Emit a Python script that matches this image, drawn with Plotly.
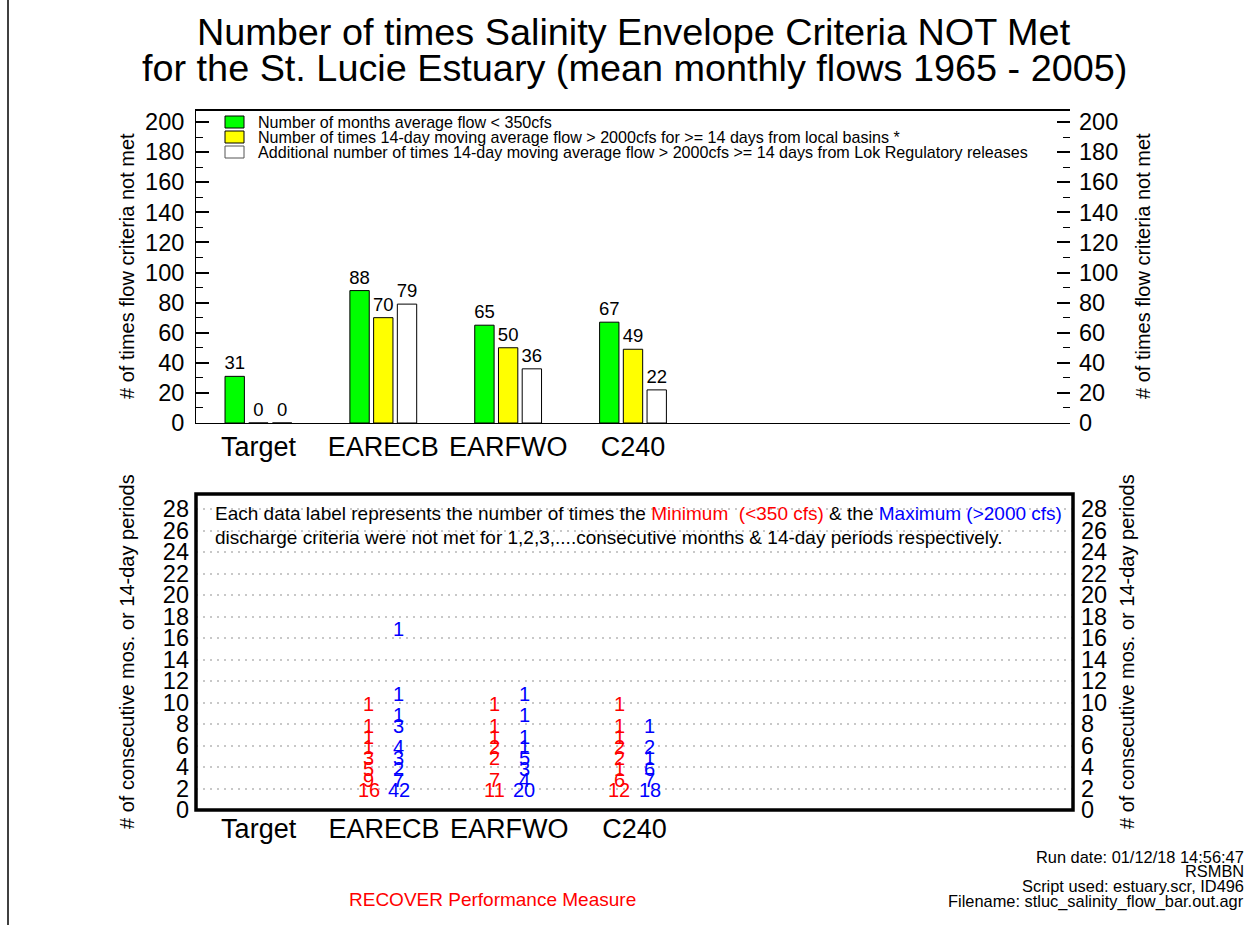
import plotly.graph_objects as go

# ---------------- data ----------------
stations = ["Target", "EARECB", "EARFWO", "C240"]
months_lt350 = [31, 88, 65, 67]
times_gt2000_local = [0, 70, 50, 49]
times_gt2000_lok = [0, 79, 36, 22]

# lower panel: consecutive duration -> number of occurrences
min_dur = {
    "EARECB": [1, 2, 3, 4, 5, 6, 7, 9],
    "EARFWO": [1, 2, 4, 5, 6, 7, 9],
    "C240":   [1, 2, 3, 4, 5, 6, 7, 9],
}
min_cnt = {
    "EARECB": [16, 9, 5, 3, 1, 1, 1, 1],
    "EARFWO": [11, 7, 2, 2, 1, 1, 1],
    "C240":   [12, 6, 1, 2, 2, 1, 1, 1],
}
max_dur = {
    "EARECB": [1, 2, 3, 4, 5, 7, 8, 10, 16],
    "EARFWO": [1, 2, 3, 4, 5, 6, 8, 10],
    "C240":   [1, 2, 3, 4, 5, 7],
}
max_cnt = {
    "EARECB": [42, 7, 2, 3, 4, 3, 1, 1, 1],
    "EARFWO": [20, 4, 3, 5, 1, 1, 1, 1],
    "C240":   [18, 7, 6, 1, 2, 1],
}
legend_labels = [
    "Number of months average flow < 350cfs",
    "Number of times 14-day moving average flow > 2000cfs for >= 14 days from local basins *",
    "Additional number of times 14-day moving average flow > 2000cfs >= 14 days from Lok Regulatory releases",
]

# ---------------- layout helpers ----------------
W, H = 1254, 925
FONT = "Liberation Sans, Arial, Helvetica, sans-serif"


def fx(p):
    return p / W


def fy(p):
    return 1 - p / H


pos = list(range(1, len(stations) + 1))
bar_off = 0.19
bar_w = 0.155
lab_off = 0.12

fig = go.Figure()

colors = ["#00ff00", "#ffff00", "#ffffff"]
series = [months_lt350, times_gt2000_local, times_gt2000_lok]
for k, (vals, col) in enumerate(zip(series, colors)):
    fig.add_trace(go.Bar(
        x=[p + (k - 1) * bar_off for p in pos], y=vals, width=bar_w,
        marker=dict(color=col, line=dict(color="black", width=1)),
        text=[str(v) for v in vals], textposition="outside",
        textfont=dict(size=18.5, color="black", family=FONT),
        constraintext="none", cliponaxis=False,
        xaxis="x", yaxis="y", showlegend=False, hoverinfo="skip",
    ))

# lower panel labels (annotations placed in data coords)
annotations = []
for i, st in enumerate(stations):
    p = pos[i]
    for d, c in zip(min_dur.get(st, []), min_cnt.get(st, [])):
        annotations.append(dict(x=p - lab_off, y=d, xref="x2", yref="y2", text=str(c),
                                showarrow=False, yshift=9, yanchor="middle",
                                font=dict(size=20, color="#ff0000", family=FONT)))
    for d, c in zip(max_dur.get(st, []), max_cnt.get(st, [])):
        annotations.append(dict(x=p + lab_off, y=d, xref="x2", yref="y2", text=str(c),
                                showarrow=False, yshift=9, yanchor="middle",
                                font=dict(size=20, color="#0000ff", family=FONT)))

# invisible traces to register the other axes
fig.add_trace(go.Scatter(x=[pos[0]], y=[0], xaxis="x2", yaxis="y2", mode="markers",
                         marker=dict(opacity=0), showlegend=False, hoverinfo="skip"))
fig.add_trace(go.Scatter(x=[pos[0]], y=[0], xaxis="x", yaxis="y3", mode="markers",
                         marker=dict(opacity=0), showlegend=False, hoverinfo="skip"))
fig.add_trace(go.Scatter(x=[pos[0]], y=[0], xaxis="x2", yaxis="y4", mode="markers",
                         marker=dict(opacity=0), showlegend=False, hoverinfo="skip"))

tickfont = dict(size=23.5, color="black", family=FONT)
catfont = dict(size=27, color="black", family=FONT)

up_dom = [fy(423), fy(110)]
lo_dom = [fy(810), fy(494)]
up_range = [0, 208]
lo_range = [0, 316 / 10.75]

common_x = dict(range=[0.5, 7.5], tickmode="array", tickvals=pos, ticktext=stations,
                tickfont=catfont, ticks="", showgrid=False, zeroline=False,
                automargin=False, fixedrange=True)

fig.update_layout(
    width=W, height=H, margin=dict(l=0, r=0, t=0, b=0),
    paper_bgcolor="white", plot_bgcolor="white", template="none",
    barmode="overlay",
    xaxis=dict(domain=[fx(196), fx(1070)], anchor="y", showline=True, linecolor="black",
               linewidth=1, mirror=True, **common_x),
    yaxis=dict(domain=up_dom, range=up_range, anchor="x", tickmode="linear", tick0=0, dtick=20,
               ticks="inside", ticklen=13, tickwidth=1.5, tickcolor="black",
               minor=dict(dtick=10, ticks="inside", ticklen=7, tickcolor="black", tickwidth=1),
               tickfont=tickfont, ticklabelstandoff=6, showgrid=False, zeroline=False,
               showline=True, linecolor="black", linewidth=1, automargin=False,
               fixedrange=True),
    yaxis3=dict(domain=up_dom, range=up_range, anchor="x", overlaying="y", side="right",
                tickmode="linear", tick0=0, dtick=20, ticks="inside", ticklen=13, tickwidth=1.5,
                tickcolor="black",
                minor=dict(dtick=10, ticks="inside", ticklen=7, tickcolor="black", tickwidth=1),
                tickfont=tickfont, ticklabelstandoff=8, showgrid=False, zeroline=False,
                showline=False, automargin=False, fixedrange=True),
    xaxis2=dict(domain=[fx(196), fx(1073)], anchor="y2", showline=False, **common_x),
    yaxis2=dict(domain=lo_dom, range=lo_range, anchor="x2", tickmode="linear", tick0=0, dtick=2,
                ticks="", tickfont=tickfont, ticklabelstandoff=6, showgrid=True,
                gridcolor="#c8c8c8", griddash="2px,5px", gridwidth=1.5, zeroline=False,
                showline=False, automargin=False, fixedrange=True),
    yaxis4=dict(domain=lo_dom, range=lo_range, anchor="x2", overlaying="y2", side="right",
                tickmode="linear", tick0=0, dtick=2, ticks="", tickfont=tickfont,
                ticklabelstandoff=7, showgrid=False, zeroline=False, showline=False,
                automargin=False, fixedrange=True),
    showlegend=False,
)

shapes = []
# lower panel thick frame
shapes.append(dict(type="rect", xref="paper", yref="paper", x0=fx(196), x1=fx(1073),
                   y0=fy(810), y1=fy(494), line=dict(color="black", width=3.5)))
# upper box top heavier line
shapes.append(dict(type="line", xref="paper", yref="paper", x0=fx(196), x1=fx(1070),
                   y0=fy(110), y1=fy(110), line=dict(color="black", width=2)))
# page left border
shapes.append(dict(type="line", xref="paper", yref="paper", x0=fx(8), x1=fx(8),
                   y0=0, y1=1, line=dict(color="black", width=1.5)))
# legend swatches
for k, col in enumerate(colors):
    yc = 122 + 15 * k
    shapes.append(dict(type="rect", xref="paper", yref="paper", x0=fx(225), x1=fx(244),
                       y0=fy(yc + 6), y1=fy(yc - 6), fillcolor=col,
                       line=dict(color="black" if k < 2 else "#555555", width=1)))
    annotations.append(dict(x=fx(257), y=fy(yc), xref="paper", yref="paper",
                            text=legend_labels[k], showarrow=False, xanchor="left",
                            yanchor="middle", borderpad=0,
                            font=dict(size=16.1, color="black", family=FONT)))

# titles
annotations.append(dict(x=fx(634), y=fy(32), xref="paper", yref="paper",
                        text="Number of times Salinity Envelope Criteria NOT Met",
                        showarrow=False, xanchor="center", yanchor="middle",
                        font=dict(size=37.8, color="black", family=FONT)))
annotations.append(dict(x=fx(634), y=fy(68), xref="paper", yref="paper",
                        text="for the St. Lucie Estuary (mean monthly flows 1965 - 2005)",
                        showarrow=False, xanchor="center", yanchor="middle",
                        font=dict(size=37.8, color="black", family=FONT)))

# axis titles
for xp, yp, txt in [(127, 266, "# of times flow criteria not met"),
                    (1143, 266, "# of times flow criteria not met"),
                    (127, 652, "# of consecutive mos. or 14-day periods"),
                    (1127, 652, "# of consecutive mos. or 14-day periods")]:
    annotations.append(dict(x=fx(xp), y=fy(yp), xref="paper", yref="paper", text=txt,
                            showarrow=False, textangle=-90, xanchor="center", yanchor="middle",
                            font=dict(size=20, color="black", family=FONT)))

# lower panel explanation
annotations.append(dict(
    x=fx(214), y=fy(513), xref="paper", yref="paper", showarrow=False, borderpad=0,
    xanchor="left", yanchor="middle", font=dict(size=19, color="black", family=FONT),
    text=("Each data label represents the number of times the "
          "<span style='color:#ff0000'>Minimum  (&lt;350 cfs)</span> &amp; the "
          "<span style='color:#0000ff'>Maximum (&gt;2000 cfs)</span>")))
annotations.append(dict(
    x=fx(214), y=fy(537), xref="paper", yref="paper", showarrow=False, borderpad=0,
    xanchor="left", yanchor="middle", font=dict(size=19, color="black", family=FONT),
    text="discharge criteria were not met for 1,2,3,....consecutive months &amp; 14-day periods respectively."))

# footer
for yp, txt in [(857, "Run date: 01/12/18 14:56:47"), (871, "RSMBN"),
                (886, "Script used: estuary.scr, ID496"),
                (901, "Filename: stluc_salinity_flow_bar.out.agr")]:
    annotations.append(dict(x=fx(1245), y=fy(yp), xref="paper", yref="paper", text=txt,
                            showarrow=False, xanchor="right", yanchor="middle", borderpad=0,
                            font=dict(size=16.4, color="black", family=FONT)))
annotations.append(dict(x=fx(492), y=fy(899), xref="paper", yref="paper",
                        text="RECOVER Performance Measure", showarrow=False,
                        xanchor="center", yanchor="middle",
                        font=dict(size=19, color="#ff0000", family=FONT)))

fig.update_layout(shapes=shapes, annotations=annotations)
fig.write_html("out.html", config={"displayModeBar": False},
               post_script="document.body.style.margin='0';document.body.style.overflow='hidden';")
